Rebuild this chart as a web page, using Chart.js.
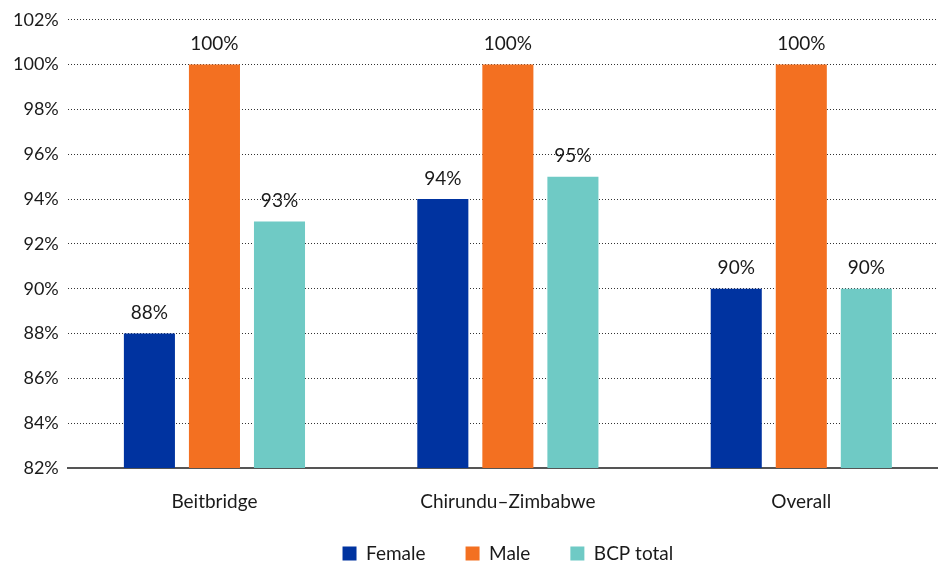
<!DOCTYPE html>
<html>
<head>
<meta charset="utf-8">
<script src="https://cdn.jsdelivr.net/npm/chart.js@4"></script>
<style>
  html, body { margin: 0; background: #fff; overflow: hidden; }
  /* el área del gráfico sigue más allá del borde derecho, como en el original */
  #wrap { width: 948px; height: 564px; }
</style>
</head>
<body>
<div id="wrap"><canvas id="barChart"></canvas></div>
<script>
    const categorias = ['Beitbridge', 'Chirundu\u2013Zimbabwe', 'Overall'];
    const female = [88, 94, 90];
    const male = [100, 100, 100];
    const bcpTotal = [93, 95, 90];
    const yMin = 82;
    const yMax = 102;

    // Etiquetas encima de cada barra
    const etiquetas = {
        id: 'etiquetas',
        afterDatasetsDraw(chart) {
            const ctx = chart.ctx;
            ctx.save();
            ctx.font = '19px Lato';
            ctx.fillStyle = '#1a1a1a';
            ctx.textAlign = 'center';
            ctx.textBaseline = 'bottom';
            chart.data.datasets.forEach((ds, i) => {
                chart.getDatasetMeta(i).data.forEach((bar, j) => {
                    ctx.fillText(ds.data[j] + '%', bar.x, bar.y - 11);
                });
            });
            ctx.restore();
        }
    };

    // Leyenda con menos relleno arriba (el padding de 40 es solo para separar los items)
    const RECORTE = 14;
    const leyendaCompacta = {
        id: 'leyendaCompacta',
        beforeLayout(chart) {
            const lg = chart.legend;
            if (!lg || lg._compacta) return;
            lg._compacta = true;
            const fit = lg.fit;
            const draw = lg.draw;
            lg.fit = function () { fit.call(this); this.height -= RECORTE; };
            lg.draw = function (area) {
                this.top -= RECORTE;
                draw.call(this, area);
                this.top += RECORTE;
            };
        }
    };

    const ctx = document.getElementById('barChart').getContext('2d');
    const barChart = new Chart(ctx, {
        type: 'bar',
        data: {
            labels: categorias,
            datasets: [
                { label: 'Female', data: female, backgroundColor: '#0033A0' },
                { label: 'Male', data: male, backgroundColor: '#F37021' },
                { label: 'BCP total', data: bcpTotal, backgroundColor: '#6FCAC5' }
            ]
        },
        options: {
            responsive: true,
            maintainAspectRatio: false,
            animation: false,
            datasets: {
                bar: { barPercentage: 0.785, categoryPercentage: 0.665 }
            },
            layout: { padding: { top: 17, right: 0, left: 4, bottom: -9 } },
            scales: {
                y: {
                    min: yMin,
                    max: yMax,
                    ticks: {
                        stepSize: 2,
                        color: '#1a1a1a',
                        font: { family: 'Lato', size: 18 },
                        padding: 9,
                        callback: v => v + '%'
                    },
                    grid: {
                        color: '#333',
                        lineWidth: 1,
                        drawTicks: false
                    },
                    border: { display: false, dash: [1, 2] }
                },
                x: {
                    afterFit: scale => { scale.height = 50; },
                    ticks: {
                        color: '#1a1a1a',
                        font: { family: 'Lato', size: 19 },
                        padding: 22
                    },
                    grid: { display: false, drawTicks: false },
                    border: { color: '#555', width: 2 }
                }
            },
            plugins: {
                legend: {
                    position: 'bottom',
                    fullSize: false,
                    labels: {
                        boxWidth: 14,
                        boxHeight: 14,
                        padding: 40,
                        color: '#1a1a1a',
                        font: { family: 'Lato', size: 19 }
                    }
                },
                tooltip: { enabled: false }
            }
        },
        plugins: [etiquetas, leyendaCompacta]
    });
</script>
</body>
</html>
